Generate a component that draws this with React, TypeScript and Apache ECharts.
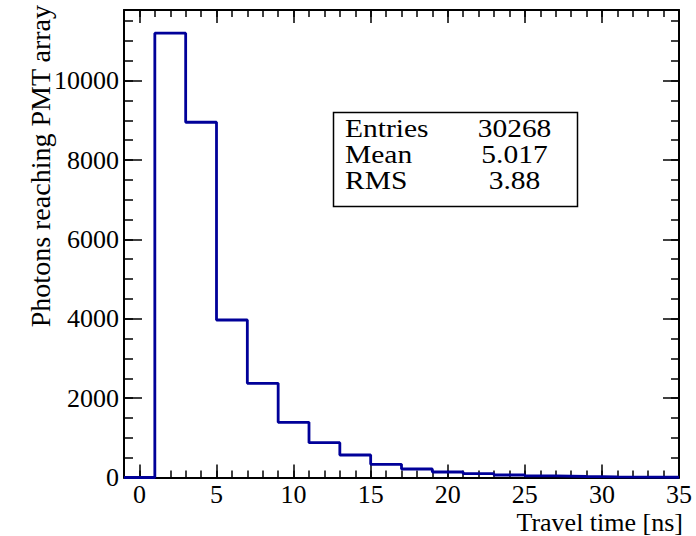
import React, { useEffect, useRef } from "react";
import * as echarts from "echarts";

// Histogram bins (left edges, width 2 ns) and contents
const binLeftEdges = [-1, 1, 3, 5, 7, 9, 11, 13, 15, 17, 19, 21, 23, 25, 27, 29, 31, 33];
const binCounts = [0, 11195, 8951, 3969, 2374, 1391, 877, 567, 333, 214, 139, 96, 63, 40, 25, 15, 10, 6];
const binWidth = 2;

const xMajorTicks = [0, 5, 10, 15, 20, 25, 30, 35];
const xMinorTicks = Array.from({ length: 37 }, (_, i) => i - 1);
const yMajorTicks = [0, 2000, 4000, 6000, 8000, 10000];
const yMinorTicks = Array.from({ length: 24 }, (_, i) => i * 500);

const statLabels = ["Entries", "Mean", "RMS"];
const statValues = ["30268", "5.017", "3.88"];

const xTitle = "Travel time [ns]";
const yTitle = "Photons reaching PMT array";

const FONT = "'Liberation Serif', 'Times New Roman', serif";

export default function App() {
  const ref = useRef<HTMLDivElement>(null);
  useEffect(() => {
    if (!ref.current) return;
    const chart = echarts.init(ref.current, null, { renderer: "svg" });
    const data: [number, number][] = binLeftEdges.map((x, i) => [x, binCounts[i]]);
    const lastEdge = binLeftEdges[binLeftEdges.length - 1] + binWidth;
    data.push([lastEdge, binCounts[binCounts.length - 1]]);

    const xMin = -1, xMax = 35, yMin = 0, yMax = 11780;
    const lbl = { fontFamily: FONT, fontSize: 26, color: "#000", formatter: (v: number) => String(v) };
    const blackLine = { color: "#000", width: 2 };

    const xAx = (pos: string, major: boolean, showLine: boolean, showLabel: boolean) => ({
      type: "value",
      position: pos,
      min: xMin,
      max: xMax,
      axisLine: { show: showLine, onZero: false, lineStyle: blackLine },
      axisTick: {
        show: true,
        inside: true,
        length: major ? 13 : 7,
        customValues: major ? xMajorTicks : xMinorTicks,
        lineStyle: { color: "#000", width: 1.5 },
      },
      axisLabel: showLabel
        ? { show: true, customValues: xMajorTicks, margin: 4, ...lbl }
        : { show: false },
      splitLine: { show: false },
    });
    const yAx = (pos: string, major: boolean, showLine: boolean, showLabel: boolean, len: number) => ({
      type: "value",
      position: pos,
      min: yMin,
      max: yMax,
      axisLine: { show: showLine, onZero: false, lineStyle: blackLine },
      axisTick: {
        show: true,
        inside: true,
        length: len,
        customValues: major ? yMajorTicks : yMinorTicks,
        lineStyle: { color: "#000", width: 1.5 },
      },
      axisLabel: showLabel
        ? { show: true, customValues: yMajorTicks, margin: 5, ...lbl }
        : { show: false },
      splitLine: { show: false },
    });

    const statStyle = { fontFamily: FONT, fontSize: 25, fill: "#000", textVerticalAlign: "middle" };

    chart.setOption({
      animation: false,
      backgroundColor: "#fff",
      grid: { left: 124, top: 10, width: 555, height: 467.5, containLabel: false },
      xAxis: [
        xAx("bottom", true, true, true),
        xAx("bottom", false, false, false),
        xAx("top", true, true, false),
        xAx("top", false, false, false),
      ],
      yAxis: [
        yAx("left", true, true, true, 18),
        yAx("left", false, false, false, 9),
        yAx("right", true, true, false, 16),
        yAx("right", false, false, false, 8),
      ],
      series: [
        {
          type: "line",
          xAxisIndex: 0,
          yAxisIndex: 0,
          step: "end",
          symbol: "none",
          data,
          z: 10,
          lineStyle: { color: "#000099", width: 2.8 },
        },
      ],
      graphic: [
        {
          type: "rect",
          shape: { x: 333.5, y: 112.5, width: 244, height: 94 },
          style: { fill: "#fff", stroke: "#000", lineWidth: 1.5 },
          z: 20,
        },
        ...statLabels.map((t, i) => ({
          type: "text",
          x: 345,
          y: 129 + i * 26,
          scaleX: 1.18,
          z: 21,
          style: { text: t, textAlign: "left", ...statStyle },
        })),
        ...statValues.map((t, i) => ({
          type: "text",
          x: 514.5,
          y: 129 + i * 26,
          scaleX: 1.18,
          z: 21,
          style: { text: t, textAlign: "center", ...statStyle },
        })),
        {
          type: "text",
          x: 683,
          y: 522,
          z: 21,
          style: { text: xTitle, fontFamily: FONT, fontSize: 26, fill: "#000", textAlign: "right", textVerticalAlign: "middle" },
        },
        {
          type: "text",
          x: 40,
          y: 5,
          rotation: Math.PI / 2,
          z: 21,
          style: { text: yTitle, fontFamily: FONT, fontSize: 28, fill: "#000", textAlign: "right", textVerticalAlign: "middle" },
        },
      ],
    });
    return () => chart.dispose();
  }, []);
  return (
    <div
      ref={ref}
      style={{ position: "fixed", left: 0, top: 0, width: 696, height: 536, background: "#fff" }}
    />
  );
}
